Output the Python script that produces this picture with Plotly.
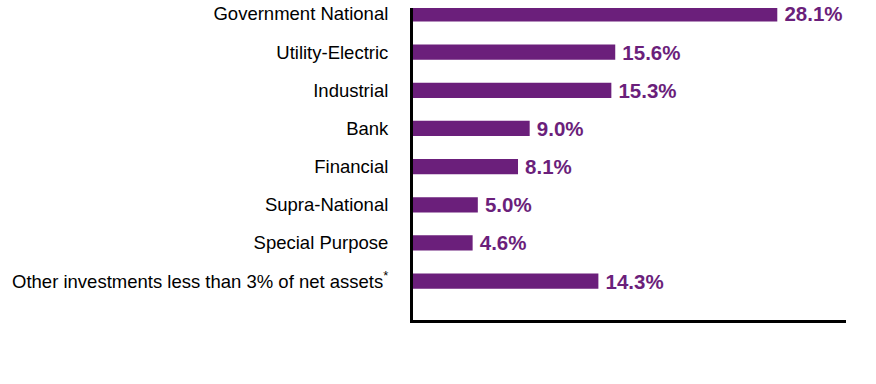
import plotly.graph_objects as go

categories = ["Government National", "Utility-Electric", "Industrial", "Bank", "Financial",
              "Supra-National", "Special Purpose", "Other investments less than 3% of net assets<sup>*</sup>"]
values = [28.1, 15.6, 15.3, 9.0, 8.1, 5.0, 4.6, 14.3]
labels = [f"\u2009{v:.1f}%" for v in values]

color = "#6B1F7B"
fig = go.Figure(go.Bar(
    x=values, y=categories, orientation="h",
    marker=dict(color=color, line=dict(width=0)),
    text=labels, textposition="outside", cliponaxis=False, constraintext="none",
    textfont=dict(family="Liberation Sans, Arial", size=20.5, color=color, weight="bold"),
    width=0.4, hoverinfo="skip",
))
fig.update_layout(
    width=876, height=384,
    margin=dict(l=413, r=30, t=8, b=64, autoexpand=False),
    plot_bgcolor="white", paper_bgcolor="white",
    showlegend=False,
    font=dict(family="Liberation Sans, Arial", size=18.5, color="black"),
    xaxis=dict(range=[0, 33.4], showgrid=False, zeroline=False, showticklabels=False,
               showline=True, linecolor="black", linewidth=3, ticks=""),
    yaxis=dict(autorange=False, range=[8.02, -0.157], showgrid=False, zeroline=False,
               showline=True, linecolor="black", linewidth=3, ticks="",
               ticklabelstandoff=18, type="category"),
)
fig.write_html("out.html", config={"displayModeBar": False},
               post_script="document.body.style.margin='0';document.body.style.padding='0';")
